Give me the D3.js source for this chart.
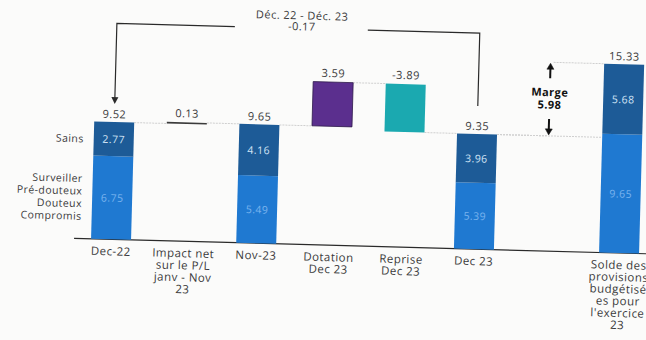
<!DOCTYPE html>
<html>
<head>
<meta charset="utf-8">
<script src="https://cdn.jsdelivr.net/npm/d3@7"></script>
<style>
  html, body { margin: 0; padding: 0; background: #fbfbfa; }
  svg { display: block; font-family: "Open Sans", "Lato", sans-serif; letter-spacing: 0.45px; }
</style>
</head>
<body>
<svg id="chart" width="646" height="340"></svg>
<script>
// Categories (line breaks mark wrapped axis labels); " " is an empty slot
const categories = [
  "Dec-22",
  "Impact net\nsur le P/L\njanv - Nov\n23",
  "Nov-23",
  "Dotation\nDec 23",
  "Reprise\nDec 23",
  "Dec 23",
  " ",
  "Solde des\nprovisions\nbudgétisé\nes pour\nl'exercice\n23"
];
// Stacked totals: "Sains" on top, other classes below
const sains  = [2.77, null, 4.16, null, null, 3.96, null, 5.68];
const autres = [6.75, null, 5.49, null, null, 5.39, null, 9.65];
const totals = [9.52, null, 9.65, null, null, 9.35, null, 15.33];
// Movements between totals
const deltas = [null, 0.13, null, 3.59, -3.89, null, null, null];
const deltaKinds = [null, "impact", null, "dotation", "reprise", null, null, null];
// Legend labels for the two stack segments
const legendTop = ["Sains"];
const legendBottom = ["Surveiller", "Pré-douteux", "Douteux", "Compromis"];
// Annotations
const bridgeTitle = "Déc. 22 - Déc. 23";
const bridgeValue = -0.17;
const margeLabel = "Marge";
const margeValue = 5.98;

const colors = {
  sains: "#1d5b97",
  autres: "#1f79d1",
  impact: "#3b3b3b",
  dotation: "#5b2f8e",
  reprise: "#1ba9b0",
  text: "#3a3a3a"
};

const svg = d3.select("#chart");
// The whole slide sits at a slight tilt
const g = svg.append("g").attr("transform", "rotate(1.55,323,170)");

const x = d3.scaleBand()
  .domain(categories)
  .range([76.7, 657.5])
  .paddingInner(0.449)
  .paddingOuter(0.2245);

const y = d3.scaleLinear().domain([0, 16]).range([245, 245 - 16 * 12.32]);

const bw = x.bandwidth();
const cx = c => x(c) + bw / 2;
const f2 = d3.format(".2f");
const fmt = v => f2(v).replace("\u2212", "-");

// Running levels for the waterfall
const rows = [];
let level = 0;
categories.forEach((c, i) => {
  if (totals[i] != null) {
    level = totals[i];
    rows.push({ c, i, type: "total", lo: 0, hi: totals[i] });
  } else if (deltas[i] != null) {
    const from = level, to = level + deltas[i];
    rows.push({ c, i, type: "delta", lo: Math.min(from, to), hi: Math.max(from, to), from, to });
    level = to;
  }
});

// Connector lines between consecutive marks
const conn = g.append("g").attr("stroke", "#cfcfcf").attr("stroke-width", 1).attr("stroke-dasharray", "2,1");
for (let k = 0; k < rows.length - 1; k++) {
  const a = rows[k], b = rows[k + 1];
  const lv = a.type === "total" ? a.hi : a.to;
  conn.append("line")
    .attr("x1", x(a.c) + bw).attr("x2", x(b.c))
    .attr("y1", y(lv)).attr("y2", y(lv));
}

// Baseline
g.append("line")
  .attr("x1", 76).attr("x2", 660)
  .attr("y1", y(0)).attr("y2", y(0))
  .attr("stroke", "#2a2a2a").attr("stroke-width", 1.2);

// Stacked totals
rows.filter(r => r.type === "total").forEach(r => {
  const i = r.i;
  const bottomTop = y(autres[i]);
  g.append("rect")
    .attr("x", x(r.c)).attr("width", bw)
    .attr("y", bottomTop).attr("height", y(0) - bottomTop)
    .attr("fill", colors.autres);
  g.append("rect")
    .attr("x", x(r.c)).attr("width", bw)
    .attr("y", y(totals[i])).attr("height", bottomTop - y(totals[i]))
    .attr("fill", colors.sains);
  g.append("text")
    .attr("x", cx(r.c)).attr("y", (y(totals[i]) + bottomTop) / 2 + 4)
    .attr("text-anchor", "middle").attr("font-size", 10.5)
    .attr("fill", "#d2e4f6").text(fmt(sains[i]));
  g.append("text")
    .attr("x", cx(r.c)).attr("y", (bottomTop + y(0)) / 2 + 4)
    .attr("text-anchor", "middle").attr("font-size", 10.5)
    .attr("fill", "#79b3ee").text(fmt(autres[i]));
  g.append("text")
    .attr("x", cx(r.c)).attr("y", y(totals[i]) - 4)
    .attr("text-anchor", "middle").attr("font-size", 11)
    .attr("fill", colors.text).text(fmt(totals[i]));
});

// Movements
rows.filter(r => r.type === "delta").forEach(r => {
  const kind = deltaKinds[r.i];
  g.append("rect")
    .attr("x", x(r.c)).attr("width", bw)
    .attr("y", y(r.hi)).attr("height", Math.max(1.5, y(r.lo) - y(r.hi)))
    .attr("fill", colors[kind])
    .attr("stroke", kind === "dotation" ? "#2e1a4a" : "none")
    .attr("stroke-width", 0.8);
  g.append("text")
    .attr("x", cx(r.c)).attr("y", y(r.hi) - 5)
    .attr("text-anchor", "middle").attr("font-size", 11)
    .attr("fill", colors.text).text(fmt(deltas[r.i]));
});

// Category labels
categories.forEach(c => {
  const lines = c.split("\n");
  const t = g.append("text")
    .attr("text-anchor", "middle").attr("font-size", 11.5)
    .attr("fill", colors.text);
  lines.forEach((ln, k) => {
    t.append("tspan").attr("x", cx(c)).attr("y", y(0) + 16 + k * 12).text(ln);
  });
});

// Segment legend on the left
const yTopSeg = (y(totals[0]) + y(autres[0])) / 2;
const yBotSeg = (y(autres[0]) + y(0)) / 2;
legendTop.forEach(t => {
  g.append("text").attr("x", 83).attr("y", yTopSeg + 4)
    .attr("text-anchor", "end").attr("font-size", 10.5).attr("fill", colors.text).text(t);
});
legendBottom.forEach((t, k) => {
  g.append("text").attr("x", 83)
    .attr("y", yBotSeg + 4 + (k - (legendBottom.length - 1) / 2) * 12.6)
    .attr("text-anchor", "end").attr("font-size", 10.5).attr("fill", colors.text).text(t);
});

// Bridge annotation from Dec-22 to Dec 23
const firstTotal = categories[0], lastTotal = categories[5];
const by = 29;
const ann = g.append("g").attr("stroke", "#2a2a2a").attr("stroke-width", 1.2).attr("fill", "none");
ann.append("path").attr("d", `M231,${by} H${cx(firstTotal)} V${y(totals[0]) - 24}`);
ann.append("path").attr("d", `M364,${by} H${cx(lastTotal)} V${y(totals[5]) - 28}`);
g.append("path")
  .attr("d", `M${cx(firstTotal) - 3.5},${y(totals[0]) - 25} h7 l-3.5,7 z`)
  .attr("fill", "#2a2a2a");
g.append("text").attr("x", 298).attr("y", 20)
  .attr("text-anchor", "middle").attr("font-size", 11).attr("fill", colors.text).text(bridgeTitle);
g.append("text").attr("x", 298).attr("y", 31)
  .attr("text-anchor", "middle").attr("font-size", 11).attr("fill", colors.text).text(fmt(bridgeValue));

// Margin between Dec 23 and the budgeted balance
const gapC = categories[6], soldeC = categories[7];
const mx = cx(gapC) - 1;
conn.append("line").attr("x1", x(lastTotal) + bw).attr("x2", mx - 2)
  .attr("y1", y(totals[5])).attr("y2", y(totals[5]));
conn.append("line").attr("x1", mx + 3).attr("x2", x(soldeC))
  .attr("y1", y(totals[7])).attr("y2", y(totals[7]));
const yHi = y(totals[7]), yLo = y(totals[5]);
const arrows = g.append("g").attr("fill", "#111").attr("stroke", "#111");
arrows.append("line").attr("x1", mx).attr("x2", mx).attr("y1", yHi + 16).attr("y2", yHi + 5).attr("stroke-width", 2);
arrows.append("path").attr("d", `M${mx - 3.5},${yHi + 7} L${mx},${yHi + 1} L${mx + 3.5},${yHi + 7} z`).attr("stroke-width", 0.5);
arrows.append("line").attr("x1", mx).attr("x2", mx).attr("y1", yLo - 17).attr("y2", yLo - 5).attr("stroke-width", 2);
arrows.append("path").attr("d", `M${mx - 3.5},${yLo - 7} L${mx},${yLo - 1} L${mx + 3.5},${yLo - 7} z`).attr("stroke-width", 0.5);
g.append("text").attr("x", mx).attr("y", 90)
  .attr("text-anchor", "middle").attr("font-size", 11).attr("font-weight", "bold")
  .attr("fill", "#111").text(margeLabel);
g.append("text").attr("x", mx).attr("y", 102.5)
  .attr("text-anchor", "middle").attr("font-size", 11).attr("font-weight", "bold")
  .attr("fill", "#111").text(fmt(margeValue));
</script>
</body>
</html>
